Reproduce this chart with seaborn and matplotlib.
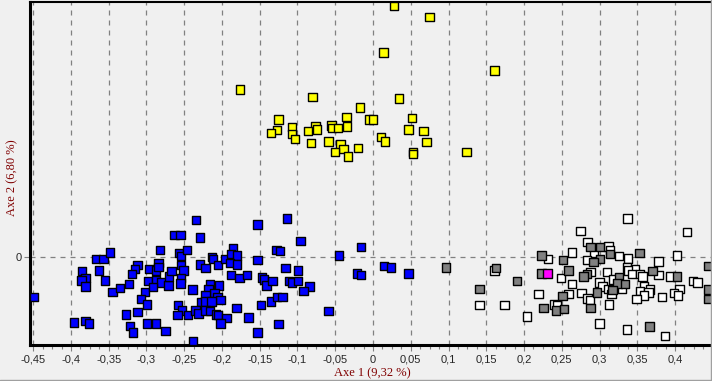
import matplotlib
matplotlib.use('Agg')
import matplotlib.pyplot as plt
import matplotlib.ticker as mtick
from matplotlib.lines import Line2D
import pandas as pd
import seaborn as sns

# coordinates (Axe 1, Axe 2)
blue_x = [-0.449, -0.367, -0.357, -0.348, -0.385, -0.363, -0.381, -0.386, -0.355, -0.381,
          -0.345, -0.335, -0.323, -0.312, -0.315, -0.319, -0.302, -0.307, -0.299, -0.312,
          -0.327, -0.322, -0.318, -0.396, -0.381, -0.376, -0.299, -0.287, -0.275, -0.282,
          -0.296, -0.287, -0.284, -0.284, -0.298, -0.287, -0.280, -0.291, -0.271, -0.270,
          -0.267, -0.263, -0.255, -0.234, -0.229, -0.257, -0.254, -0.246, -0.254, -0.251,
          -0.254, -0.255, -0.239, -0.229, -0.222, -0.213, -0.212, -0.205, -0.196, -0.185,
          -0.188, -0.180, -0.189, -0.180, -0.188, -0.177, -0.167, -0.153, -0.153, -0.128,
          -0.216, -0.204, -0.218, -0.210, -0.222, -0.206, -0.202, -0.227, -0.222, -0.214,
          -0.258, -0.253, -0.259, -0.245, -0.235, -0.231, -0.222, -0.216, -0.208, -0.205,
          -0.194, -0.202, -0.181, -0.165, -0.153, -0.148, -0.147, -0.144, -0.141, -0.133,
          -0.135, -0.127, -0.125, -0.238, -0.114, -0.096, -0.123, -0.016, -0.045, -0.116,
          -0.099, -0.111, -0.107, -0.099, -0.084, -0.092, -0.120, -0.059, -0.021, -0.016,
          0.015, 0.024, 0.047]
blue_y = [-0.053, -0.003, -0.003, 0.006, -0.019, -0.018, -0.028, -0.031, -0.031, -0.039,
          -0.046, -0.041, -0.036, -0.011, -0.016, -0.023, -0.046, -0.056, -0.063, -0.073,
          -0.076, -0.091, -0.100, -0.087, -0.085, -0.088, -0.088, -0.088, -0.098, 0.009,
          -0.016, -0.018, -0.008, -0.013, -0.032, -0.031, -0.034, -0.040, -0.038, -0.026,
          -0.019, 0.029, 0.029, 0.049, 0.026, 0.005, 0.001, 0.009, -0.011, -0.018,
          -0.028, -0.035, -0.043, -0.010, -0.015, 0.000, -0.003, -0.011, -0.003, 0.012,
          0.004, 0.002, -0.008, -0.010, -0.024, -0.028, -0.024, 0.043, -0.004, 0.009,
          -0.036, -0.038, -0.043, -0.048, -0.051, -0.053, -0.057, -0.060, -0.059, -0.059,
          -0.064, -0.071, -0.077, -0.077, -0.071, -0.075, -0.071, -0.072, -0.076, -0.077,
          -0.081, -0.088, -0.068, -0.080, -0.100, -0.064, -0.027, -0.030, -0.038, -0.032,
          -0.059, -0.053, -0.089, -0.111, 0.051, 0.021, 0.008, 0.013, 0.002, -0.015,
          -0.018, -0.032, -0.034, -0.032, -0.039, -0.045, -0.053, -0.072, -0.022, -0.024,
          -0.012, -0.014, -0.022]

yellow_x = [0.028, 0.075, 0.014, 0.161, -0.176, -0.080, 0.034, -0.017, -0.125, -0.035,
            -0.005, 0.000, 0.052, -0.107, -0.127, -0.135, -0.107, -0.103, -0.076, -0.086,
            -0.074, -0.055, -0.054, -0.046, -0.034, 0.047, 0.067, 0.011, 0.016, 0.071,
            -0.082, -0.059, -0.043, -0.039, -0.020, -0.050, -0.033, 0.053, 0.053, 0.124]
yellow_y = [0.332, 0.318, 0.271, 0.247, 0.222, 0.212, 0.210, 0.198, 0.182, 0.185,
            0.182, 0.182, 0.184, 0.172, 0.168, 0.164, 0.163, 0.156, 0.173, 0.167,
            0.169, 0.174, 0.171, 0.171, 0.173, 0.169, 0.167, 0.159, 0.153, 0.152,
            0.151, 0.153, 0.149, 0.143, 0.144, 0.139, 0.133, 0.139, 0.136, 0.139]

white_x = [0.161, 0.141, 0.174, 0.204, 0.232, 0.249, 0.264, 0.264, 0.219, 0.259,
           0.240, 0.244, 0.337, 0.275, 0.416, 0.284, 0.312, 0.314, 0.293, 0.403,
           0.326, 0.338, 0.283, 0.378, 0.336, 0.347, 0.338, 0.288, 0.310, 0.343,
           0.354, 0.357, 0.378, 0.394, 0.318, 0.424, 0.430, 0.300, 0.304, 0.312,
           0.330, 0.359, 0.367, 0.406, 0.354, 0.365, 0.359, 0.316, 0.276, 0.399,
           0.404, 0.284, 0.287, 0.383, 0.349, 0.313, 0.300, 0.336, 0.387]
white_y = [-0.018, -0.064, -0.064, -0.079, -0.003, -0.028, 0.006, -0.036, -0.049, -0.049,
           -0.063, -0.064, 0.051, 0.034, 0.033, 0.020, 0.014, 0.009, 0.005, 0.002,
           0.001, -0.002, -0.004, -0.006, -0.014, -0.016, -0.018, -0.020, -0.020, -0.023,
           -0.023, -0.026, -0.024, -0.026, -0.030, -0.032, -0.034, -0.034, -0.039, -0.042,
           -0.042, -0.039, -0.043, -0.042, -0.045, -0.047, -0.051, -0.049, -0.048, -0.048,
           -0.051, -0.055, -0.057, -0.053, -0.056, -0.063, -0.088, -0.096, -0.105]

gray_x = [0.097, 0.163, 0.191, 0.141, 0.223, 0.252, 0.223, 0.259, 0.251, 0.226,
          0.242, 0.253, 0.288, 0.301, 0.314, 0.353, 0.301, 0.292, 0.444, 0.370,
          0.283, 0.279, 0.403, 0.326, 0.324, 0.334, 0.317, 0.444, 0.297, 0.444,
          0.288, 0.366]
gray_y = [-0.014, -0.015, -0.032, -0.042, 0.002, -0.004, -0.022, -0.018, -0.052, -0.068,
          -0.071, -0.069, 0.013, 0.013, 0.004, 0.005, -0.003, -0.007, -0.012, -0.019,
          -0.023, -0.026, -0.026, -0.027, -0.035, -0.036, -0.044, -0.043, -0.047, -0.056,
          -0.068, -0.092]

magenta_x = [0.231]
magenta_y = [-0.022]

groups = ['blue', 'yellow', 'white', 'gray', 'magenta']
colors = {'blue': '#0000ff', 'yellow': '#ffff00', 'white': '#ffffff',
          'gray': '#808080', 'magenta': '#ff00ff'}

xticks = [-0.45, -0.4, -0.35, -0.3, -0.25, -0.2, -0.15, -0.1, -0.05,
          0, 0.05, 0.1, 0.15, 0.2, 0.25, 0.3, 0.35, 0.4]

# one long table, drawn in this order (gray on top of white, magenta last)
parts = [(blue_x, blue_y, 'blue'), (yellow_x, yellow_y, 'yellow'),
         (white_x, white_y, 'white'), (gray_x, gray_y, 'gray'),
         (magenta_x, magenta_y, 'magenta')]
df = pd.concat([pd.DataFrame({'axe1': xs, 'axe2': ys, 'group': g}) for xs, ys, g in parts],
               ignore_index=True)

sns.set_theme(style='white')
plt.rcParams['font.family'] = ['Liberation Sans', 'DejaVu Sans']

bg = '#f0f0f0'
fig = plt.figure(figsize=(7.12, 3.81), dpi=100, facecolor=bg)
ax = fig.add_axes([30 / 712, 36 / 381, 682 / 712, 343 / 381])
ax.set_facecolor(bg)

sns.scatterplot(data=df, x='axe1', y='axe2', hue='group', hue_order=groups,
                palette=colors, marker='s', s=36, edgecolor='black',
                linewidth=1.0, legend=False, ax=ax, zorder=3)

ax.set_xlim(-0.4543, 0.449)
ax.set_ylim(-0.1166, 0.3377)

# dashed vertical grid on every labelled tick, and the zero line across
ax.set_xticks(xticks)
ax.xaxis.set_minor_locator(mtick.MultipleLocator(0.0125))
ax.xaxis.set_major_formatter(mtick.FuncFormatter(lambda v, p: f'{round(v, 2):g}'.replace('.', ',')))
ax.xaxis.grid(True, which='major', linestyle=(0, (4, 4)), color='#808080', linewidth=0.9)
ax.axhline(0, linestyle=(0, (4, 4)), color='#808080', linewidth=0.9, zorder=1)
ax.set_axisbelow(True)

ax.set_yticks([0])
ax.set_yticklabels(['0'])

ax.tick_params(axis='x', which='major', length=4, width=0.8, color='#808080',
               labelsize=8, pad=3, bottom=True)
ax.tick_params(axis='x', which='minor', length=3, width=0.8, color='#808080', bottom=True)
ax.tick_params(axis='y', which='major', length=4, width=0.8, color='#808080',
               labelsize=8, pad=2, left=True)

for side in ['left', 'bottom']:
    ax.spines[side].set_linewidth(2.2)
    ax.spines[side].set_color('black')
ax.spines['top'].set_linewidth(1.5)
ax.spines['top'].set_color('black')
ax.spines['right'].set_visible(False)

ax.set_xlabel('')
ax.set_ylabel('')
fig.text(372 / 712, 1 - 373 / 381, 'Axe 1 (9,32 %)', ha='center', va='center',
         color='#800000', fontsize=9, family=['Liberation Serif', 'DejaVu Serif'])
fig.text(12 / 712, 1 - 178 / 381, 'Axe 2 (6,80 %)', ha='center', va='center',
         rotation=90, color='#800000', fontsize=9, family=['Liberation Serif', 'DejaVu Serif'])

# window frame lines at the bottom and right edges
fig.add_artist(Line2D([0, 1], [1.5 / 381, 1.5 / 381], color='#a0a0a0', linewidth=1))
fig.add_artist(Line2D([710.5 / 712, 710.5 / 712], [0, 1], color='#a0a0a0', linewidth=1))

fig.savefig('out.png', dpi=100, facecolor=bg)
